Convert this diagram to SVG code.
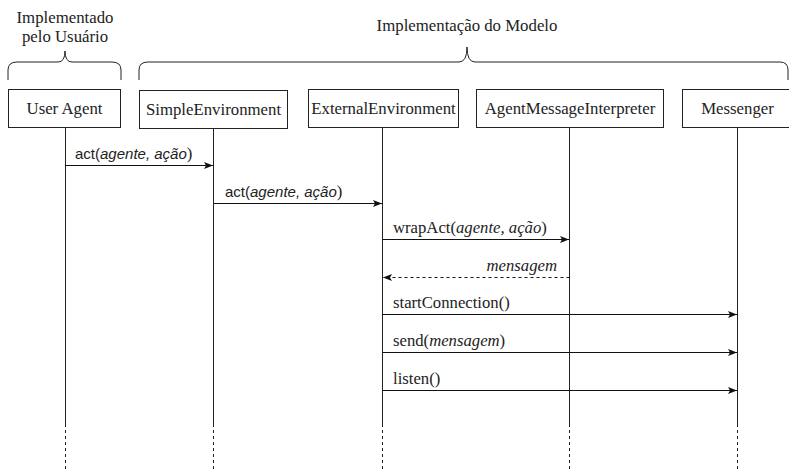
<svg xmlns="http://www.w3.org/2000/svg" width="789" height="472" viewBox="0 0 789 472">
  <style>
    .box { fill: #ffffff; stroke: #222; stroke-width: 1; }
    .name { font-family: "Liberation Serif", "Times New Roman", serif; font-size: 16.8px; fill: #222; text-anchor: middle; }
    .title { font-family: "Liberation Serif", "Times New Roman", serif; font-size: 16.8px; fill: #222; text-anchor: middle; }
    .brace { fill: none; stroke: #222; stroke-width: 1; }
    .life { stroke: #222; stroke-width: 1; fill: none; }
    .life-tail { stroke: #222; stroke-width: 1; stroke-dasharray: 3 3; fill: none; }
    .msg { stroke: #111; stroke-width: 1; fill: none; marker-end: url(#arrow); }
    .ret { stroke: #111; stroke-width: 1; fill: none; stroke-dasharray: 3 3; marker-end: url(#arrow); }
    .lbl { font-family: "Liberation Serif", "Times New Roman", serif; font-size: 16.7px; fill: #222; }
    .sans { font-family: "Liberation Sans", Arial, sans-serif; font-size: 15px; }
    .it { font-style: italic; }
  </style>
  <defs>
    <marker id="arrow" viewBox="0 0 10 8" refX="9" refY="4" markerWidth="10" markerHeight="8" markerUnits="userSpaceOnUse" orient="auto">
      <path d="M0,0.5 L9,4 L0,7.5 L2,4 z" fill="#111"/>
    </marker>
  </defs>

  <rect width="789" height="472" fill="#ffffff"/>

  <!-- group labels with braces -->
  <g id="group-user">
    <text class="title" x="65" y="23">Implementado</text>
    <text class="title" x="65" y="42">pelo Usuário</text>
    <path class="brace" d="M8,80 L8,70 Q8,62 17,62 L58,62 Q65,62 65,51 Q65,62 72,62 L112,62 Q121,62 121,70 L121,80"/>
  </g>
  <g id="group-model">
    <text class="title" x="467" y="31">Implementação do Modelo</text>
    <path class="brace" d="M139,80 L139,70 Q139,62 148,62 L459,62 Q467,62 467,47 Q467,62 475,62 L780,62 Q788,62 788,70 L788,80"/>
  </g>

  <!-- participants -->
  <g id="user-agent">
    <rect class="box" x="8.5" y="89.5" width="112" height="38"/>
    <text class="name" x="64.5" y="114">User Agent</text>
  </g>
  <g id="simple-environment">
    <rect class="box" x="139.5" y="90.5" width="148" height="38"/>
    <text class="name" x="213.5" y="115">SimpleEnvironment</text>
  </g>
  <g id="external-environment">
    <rect class="box" x="308.5" y="89.5" width="150" height="38"/>
    <text class="name" x="383.5" y="114">ExternalEnvironment</text>
  </g>
  <g id="agent-message-interpreter">
    <rect class="box" x="476.5" y="89.5" width="187" height="38"/>
    <text class="name" x="570" y="114">AgentMessageInterpreter</text>
  </g>
  <g id="messenger">
    <rect class="box" x="682.5" y="89.5" width="111" height="38"/>
    <text class="name" x="737.5" y="114">Messenger</text>
  </g>

  <!-- lifelines -->
  <g id="lifelines">
    <path class="life" d="M65.5,128 V427 M213.5,129 V427 M382.5,128 V427 M569.5,128 V427 M737.5,128 V427"/>
    <path class="life-tail" d="M65.5,430 V472 M213.5,430 V472 M382.5,430 V472 M569.5,430 V472 M737.5,430 V472"/>
  </g>

  <!-- messages -->
  <g id="connectors">
    <path class="msg" d="M65.5,165.5 H213"/>
    <path class="msg" d="M213.5,203.5 H382"/>
    <path class="msg" d="M382.5,239.5 H569"/>
    <path class="ret" d="M569.5,277.5 H383"/>
    <path class="msg" d="M382.5,314.5 H737"/>
    <path class="msg" d="M382.5,352.5 H737"/>
    <path class="msg" d="M382.5,390.5 H737"/>
  </g>

  <g id="labels">
    <text class="lbl" x="75" y="159"><tspan class="sans">act(</tspan><tspan class="sans it">agente, ação</tspan>)</text>
    <text class="lbl" x="225" y="197"><tspan class="sans">act(</tspan><tspan class="sans it">agente, ação</tspan>)</text>
    <text class="lbl" x="393" y="233">wrapAct(<tspan class="it">agente, ação</tspan>)</text>
    <text class="lbl it" x="557" y="271" text-anchor="end">mensagem</text>
    <text class="lbl" x="393" y="308">startConnection()</text>
    <text class="lbl" x="393" y="346">send(<tspan class="it">mensagem</tspan>)</text>
    <text class="lbl" x="393" y="384">listen()</text>
  </g>
</svg>
